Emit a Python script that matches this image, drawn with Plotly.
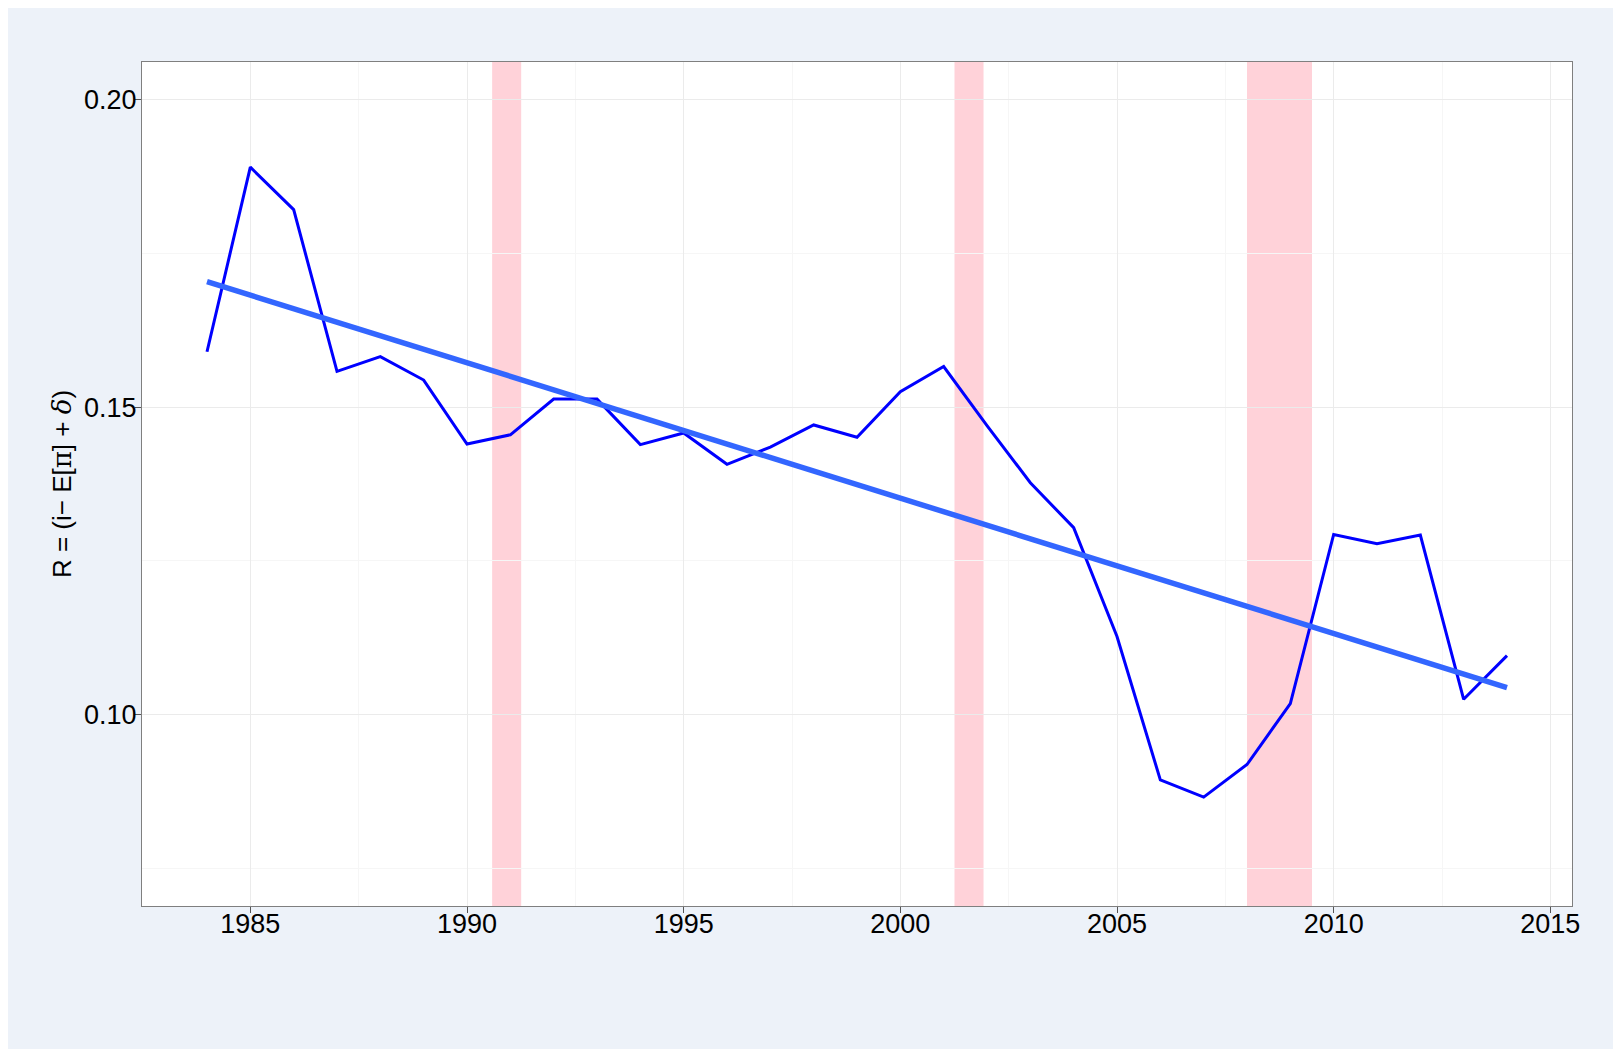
import plotly.graph_objects as go

# ---- data ----
years = list(range(1984, 2015))
real_rate = [0.1590, 0.1890, 0.1821, 0.1558, 0.1582, 0.1544, 0.1440, 0.1455,
             0.1513, 0.1513, 0.1439, 0.1458, 0.1407, 0.1435, 0.1471, 0.1451,
             0.1525, 0.1566, 0.1470, 0.1377, 0.1304, 0.1127, 0.0894, 0.0866,
             0.0919, 0.1018, 0.1293, 0.1278, 0.1292, 0.1025, 0.1096]

trend_years = [1984, 2014]
trend_values = [0.1704, 0.1044]

recession_starts = [1990.58, 2001.25, 2008.0]
recession_ends = [1991.25, 2001.92, 2009.5]

x_ticks = [1985, 1990, 1995, 2000, 2005, 2010, 2015]
y_ticks = [0.10, 0.15, 0.20]
y_tick_labels = ["0.10", "0.15", "0.20"]

x_range = [1982.5, 2015.5]
y_range = [0.0689, 0.2061]

fig = go.Figure()

for s, e in zip(recession_starts, recession_ends):
    fig.add_shape(type="rect", xref="x", yref="paper", x0=s, x1=e, y0=0, y1=1,
                  fillcolor="rgba(255,182,193,0.62)", line_width=0, layer="between")

fig.add_trace(go.Scatter(x=years, y=real_rate, mode="lines",
                         line=dict(color="#0000FF", width=3), showlegend=False))
fig.add_trace(go.Scatter(x=trend_years, y=trend_values, mode="lines",
                         line=dict(color="#3366FF", width=5.5), showlegend=False))

serif = "font-family:'DejaVu Serif',serif"
ytitle = ("R = (i− E[<span style=\"%s\">π</span>] + <span style=\"%s\"><i>δ</i></span>)"
          % (serif, serif))

fig.update_layout(
    width=1621, height=1049,
    margin=dict(l=134, r=57, t=54, b=151, pad=0),
    paper_bgcolor="#EDF2F9",
    plot_bgcolor="white",
    font=dict(family="Liberation Sans, Arial, sans-serif", size=27, color="black"),
    showlegend=False,
    xaxis=dict(range=x_range, tickvals=x_ticks, ticks="outside", ticklen=6,
               tickcolor="#555555", tickwidth=1, ticklabelstandoff=-12,
               showgrid=True, gridcolor="#EBEBEB", gridwidth=1,
               minor=dict(dtick=2.5, tick0=1985, showgrid=True, gridcolor="#F6F6F6", gridwidth=1, ticks=""),
               showline=True, linecolor="#7F7F7F", linewidth=1, mirror=True,
               zeroline=False, tickfont=dict(size=27)),
    yaxis=dict(range=y_range, tickvals=y_ticks, ticktext=y_tick_labels,
               ticks="outside", ticklen=6, tickcolor="#555555", tickwidth=1,
               ticklabelstandoff=-7,
               showgrid=True, gridcolor="#EBEBEB", gridwidth=1,
               minor=dict(tickvals=[0.075, 0.125, 0.175], showgrid=True, gridcolor="#F6F6F6", gridwidth=1, ticks=""),
               showline=True, linecolor="#7F7F7F", linewidth=1, mirror=True,
               zeroline=False, tickfont=dict(size=27),
               title=dict(text=ytitle, font=dict(size=26), standoff=4)),
)

fig.write_html("out.html")
